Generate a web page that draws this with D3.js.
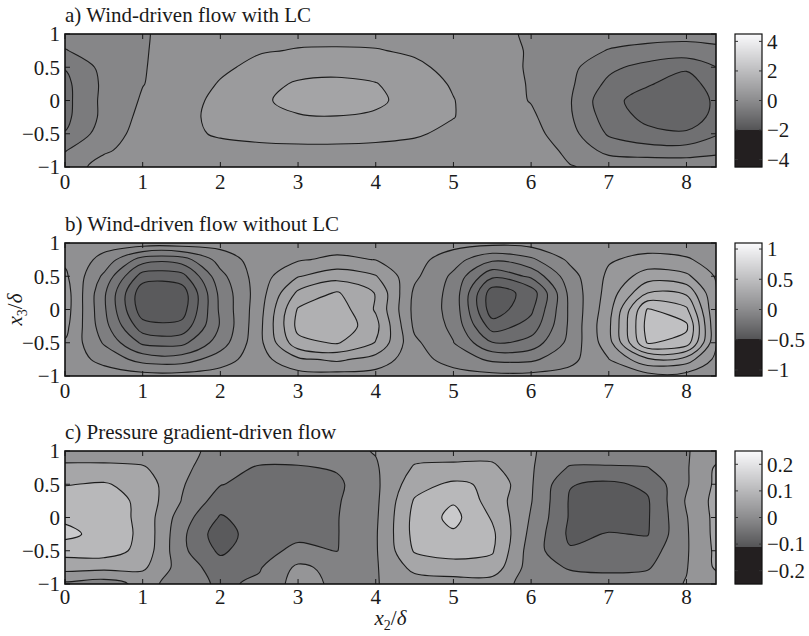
<!DOCTYPE html>
<html>
<head>
<meta charset="utf-8">
<script src="https://cdn.jsdelivr.net/npm/d3@7"></script>
<style>
  body { margin: 0; background: #fff; }
  text { font-family: "Liberation Serif", "Times New Roman", serif; fill: #1a1a1a; }
</style>
</head>
<body>
<svg id="chart" width="809" height="636"></svg>
<script>
// sample grid of the flow fields (x2/delta across, x3/delta from top to bottom)
const gridX = [0, 0.5, 1, 1.5, 2, 2.5, 3, 3.5, 4, 4.5, 5, 5.5, 6, 6.5, 7, 7.5, 8, 8.5];
const gridY = [1, 0.75, 0.5, 0.25, 0, -0.25, -0.5, -0.75, -1];

// a) wind-driven flow with LC
const fieldA = [
  [-0.25, -0.15, -0.03, 0.12, 0.18, 0.25, 0.3, 0.3, 0.28, 0.22, 0.15, 0.04, -0.02, -0.12, -0.22, -0.27, -0.3, -0.3],
  [-0.42, -0.2, -0.025, 0.13, 0.25, 0.37, 0.42, 0.43, 0.42, 0.35, 0.25, 0.12, -0.03, -0.22, -0.42, -0.5, -0.52, -0.45],
  [-0.78, -0.28, -0.02, 0.15, 0.33, 0.5, 0.62, 0.65, 0.6, 0.47, 0.3, 0.15, -0.04, -0.3, -0.7, -0.95, -1.15, -0.7],
  [-0.9, -0.32, -0.01, 0.17, 0.43, 0.65, 0.85, 0.9, 0.82, 0.55, 0.37, 0.18, -0.03, -0.33, -0.9, -1.17, -1.35, -0.95],
  [-0.92, -0.3, 0.04, 0.25, 0.5, 0.72, 0.95, 1.05, 0.9, 0.6, 0.41, 0.2, -0.02, -0.37, -1.1, -1.35, -1.5, -1.0],
  [-0.9, -0.3, 0.105, 0.3, 0.5, 0.65, 0.76, 0.78, 0.72, 0.55, 0.41, 0.2, 0.07, -0.35, -1.0, -1.3, -1.4, -1.0],
  [-0.78, -0.2, 0.145, 0.3, 0.45, 0.52, 0.56, 0.56, 0.52, 0.45, 0.3, 0.2, 0.15, -0.26, -0.85, -1.1, -1.15, -0.75],
  [-0.42, -0.05, 0.16, 0.2, 0.26, 0.29, 0.3, 0.3, 0.29, 0.26, 0.2, 0.15, 0.12, -0.05, -0.55, -0.62, -0.62, -0.5],
  [-0.2, 0.15, 0.15, 0.16, 0.18, 0.2, 0.2, 0.2, 0.19, 0.17, 0.14, 0.08, 0.03, 0.01, -0.05, -0.1, -0.12, -0.1]
];
const levelsA = [-1.2, -0.8, -0.4, 0, 0.4, 0.8];
const rangeA = [-4.5, 4.5];
const cbTicksA = [4, 2, 0, -2, -4];

// b) wind-driven flow without LC
const fieldB = [
  [0.04, 0.032, 0.048, 0.048, 0.032, 0.04, 0.04, 0.04, 0.04, 0.04, 0.032, 0.024, 0.032, 0.04, 0.04, 0.04, 0.04, 0.04],
  [0.064, -0.024, -0.2, -0.2, -0.048, 0.04, 0.072, 0.096, 0.078, 0.032, -0.048, -0.144, -0.096, 0.016, 0.072, 0.104, 0.088, 0.04],
  [0.096, -0.096, -0.36, -0.352, -0.104, 0.04, 0.155, 0.208, 0.165, 0.016, -0.096, -0.304, -0.224, -0.032, 0.096, 0.2, 0.176, 0.04],
  [0.12, -0.144, -0.456, -0.448, -0.136, 0.04, 0.256, 0.328, 0.236, -0.016, -0.104, -0.448, -0.368, -0.056, 0.112, 0.318, 0.304, 0.016],
  [0.12, -0.144, -0.448, -0.44, -0.144, 0.048, 0.328, 0.368, 0.232, -0.024, -0.104, -0.448, -0.336, -0.064, 0.128, 0.488, 0.416, -0.024],
  [0.104, -0.128, -0.368, -0.376, -0.152, 0.056, 0.344, 0.384, 0.264, -0.016, -0.096, -0.36, -0.288, -0.064, 0.144, 0.512, 0.496, -0.04],
  [0.072, -0.088, -0.256, -0.264, -0.12, 0.056, 0.296, 0.328, 0.236, 0.016, -0.078, -0.236, -0.208, -0.056, 0.128, 0.488, 0.448, -0.024],
  [0.048, -0.024, -0.112, -0.12, -0.04, 0.048, 0.144, 0.176, 0.128, 0.032, -0.032, -0.096, -0.096, -0.024, 0.078, 0.224, 0.2, 0.016],
  [0.04, 0.04, 0.032, 0.032, 0.04, 0.04, 0.048, 0.048, 0.048, 0.04, 0.032, 0.024, 0.024, 0.032, 0.04, 0.048, 0.048, 0.04]
];
const levelsB = [-0.4, -0.32, -0.24, -0.16, -0.08, 0, 0.08, 0.16, 0.24, 0.32, 0.4, 0.48];
const rangeB = [-1.1, 1.1];
const cbTicksB = [1, 0.5, 0, -0.5, -1];

// c) pressure gradient-driven flow
const fieldC = [
  [0.02, 0.02, 0.016, 0.012, -0.012, -0.016, -0.016, -0.012, 0.002, 0.024, 0.028, 0.024, 0.002, -0.012, -0.016, -0.016, -0.002, 0.02],
  [0.048, 0.048, 0.044, 0.01, -0.024, -0.044, -0.044, -0.036, -0.004, 0.044, 0.046, 0.048, 0.004, -0.044, -0.044, -0.041, -0.004, 0.06],
  [0.078, 0.084, 0.064, 0.004, -0.038, -0.056, -0.056, -0.048, -0.008, 0.064, 0.088, 0.072, 0.004, -0.078, -0.088, -0.072, -0.004, 0.064],
  [0.1, 0.104, 0.068, -0.001, -0.06, -0.06, -0.056, -0.044, -0.008, 0.084, 0.116, 0.064, 0.002, -0.084, -0.096, -0.084, 0.004, 0.068],
  [0.112, 0.108, 0.068, -0.02, -0.084, -0.06, -0.052, -0.042, -0.006, 0.092, 0.132, 0.076, -0.004, -0.084, -0.096, -0.084, -0.002, 0.068],
  [0.132, 0.104, 0.072, -0.03, -0.104, -0.052, -0.048, -0.042, -0.004, 0.092, 0.114, 0.088, -0.012, -0.088, -0.078, -0.082, -0.004, 0.068],
  [0.096, 0.1, 0.068, -0.03, -0.088, -0.052, -0.032, -0.041, -0.004, 0.084, 0.1, 0.084, -0.02, -0.076, -0.064, -0.06, -0.004, 0.064],
  [0.056, 0.052, 0.048, -0.018, -0.06, -0.044, 0.008, -0.012, -0.004, 0.052, 0.06, 0.064, -0.02, -0.044, -0.048, -0.044, -0.002, 0.06],
  [-0.008, -0.02, 0.012, -0.016, -0.048, -0.032, 0.016, -0.008, -0.002, 0.02, 0.024, 0.02, -0.016, -0.02, -0.024, -0.02, 0.002, 0.016]
];
const levelsC = [-0.08, -0.04, 0, 0.04, 0.08, 0.12];
const rangeC = [-0.25, 0.25];
const cbTicksC = [0.2, 0.1, 0, -0.1, -0.2];

const titles = ["a) Wind-driven flow with LC", "b) Wind-driven flow without LC", "c) Pressure gradient-driven flow"];
const xTicks = [0, 1, 2, 3, 4, 5, 6, 7, 8];
const yTicks = [1, 0.5, 0, -0.5, -1];
const xMax = 8.38;

const panels = [
  { field: fieldA, levels: levelsA, range: rangeA, cbTicks: cbTicksA, title: titles[0] },
  { field: fieldB, levels: levelsB, range: rangeB, cbTicks: cbTicksB, title: titles[1] },
  { field: fieldC, levels: levelsC, range: rangeC, cbTicks: cbTicksC, title: titles[2] }
];

const margin = { left: 65 };
const plotW = 651, plotH = 133;
const panelTops = [34, 243, 451];
const labelGap = [22, 22, 20];
const cbX = 735, cbW = 27;
const tickLen = 5;

const svg = d3.select("#chart");
const x = d3.scaleLinear().domain([0, xMax]).range([margin.left, margin.left + plotW]);

// grey colormap: dark block at the bottom, grey ramp to white on top
const shade = d3.scaleLinear().domain([0.28, 0.5, 1]).range([85, 140, 250]).clamp(true);
function gray(f) {
  if (f < 0.28) return "#231f20";
  const g = Math.round(shade(f));
  return `rgb(${g},${g},${Math.min(255, g + 2)})`;
}
const fmt = v => String(v).replace("-", "\u2212");

function drawPanel(panel, idx) {
  const top = panelTops[idx];
  const y = d3.scaleLinear().domain([-1, 1]).range([top + plotH, top]);
  const norm = d3.scaleLinear().domain(panel.range).range([0, 1]);
  const nx = gridX.length, ny = gridY.length;

  // pad the grid by one cell on each side so every ring closes outside the frame
  const padded = [];
  for (let j = -1; j <= ny; j++) {
    const row = panel.field[Math.max(0, Math.min(ny - 1, j))];
    for (let i = -1; i <= nx; i++) padded.push(row[Math.max(0, Math.min(nx - 1, i))]);
  }
  const contours = d3.contours().size([nx + 2, ny + 2]).thresholds(panel.levels)(padded);

  const ix = d3.scaleLinear().domain([0, nx - 1]).range([gridX[0], gridX[nx - 1]]);
  const iy = d3.scaleLinear().domain([0, ny - 1]).range([gridY[0], gridY[ny - 1]]);
  const line = d3.line().curve(d3.curveCatmullRomClosed.alpha(0.5));
  const ringPath = ring => line(ring.slice(0, -1).map(([c, r]) => [x(ix(c - 1.5)), y(iy(r - 1.5))]));
  const multiPath = geo => geo.coordinates.map(poly => poly.map(ringPath).join("")).join("");

  const lv = panel.levels;
  const step = lv[1] - lv[0];
  const bandMid = k => k + 1 < lv.length ? (lv[k] + lv[k + 1]) / 2 : lv[k] + step / 2;

  const clipId = "clip" + idx;
  svg.append("clipPath").attr("id", clipId)
    .append("rect").attr("x", x(0)).attr("y", top).attr("width", plotW).attr("height", plotH);

  const g = svg.append("g").attr("clip-path", `url(#${clipId})`);
  g.append("rect")
    .attr("x", x(0)).attr("y", top).attr("width", plotW).attr("height", plotH)
    .attr("fill", gray(norm(lv[0] - step / 2)));

  g.selectAll("path.band")
    .data(contours)
    .join("path")
    .attr("class", "band")
    .attr("d", multiPath)
    .attr("fill-rule", "evenodd")
    .attr("fill", (d, k) => gray(norm(bandMid(k))));

  g.selectAll("path.iso")
    .data(contours)
    .join("path")
    .attr("class", "iso")
    .attr("d", multiPath)
    .attr("fill", "none")
    .attr("stroke", "#1c1c1c")
    .attr("stroke-width", 1.1);

  // ticks (inward, all four sides)
  const ticks = svg.append("g").attr("stroke", "#1a1a1a").attr("stroke-width", 1);
  xTicks.forEach(t => {
    ticks.append("line").attr("x1", x(t)).attr("x2", x(t)).attr("y1", top + plotH).attr("y2", top + plotH - tickLen);
    ticks.append("line").attr("x1", x(t)).attr("x2", x(t)).attr("y1", top).attr("y2", top + tickLen);
  });
  yTicks.forEach(t => {
    ticks.append("line").attr("x1", x(0)).attr("x2", x(0) + tickLen).attr("y1", y(t)).attr("y2", y(t));
    ticks.append("line").attr("x1", x(xMax)).attr("x2", x(xMax) - tickLen).attr("y1", y(t)).attr("y2", y(t));
  });

  svg.append("rect")
    .attr("x", x(0)).attr("y", top).attr("width", plotW).attr("height", plotH)
    .attr("fill", "none").attr("stroke", "#111").attr("stroke-width", 1.6);

  // tick labels
  svg.append("g").selectAll("text").data(xTicks).join("text")
    .attr("x", d => x(d)).attr("y", top + plotH + labelGap[idx])
    .attr("text-anchor", "middle").attr("font-size", 21)
    .text(fmt);
  svg.append("g").selectAll("text").data(yTicks).join("text")
    .attr("x", x(0) - 5).attr("y", d => y(d)).attr("dy", "0.35em")
    .attr("text-anchor", "end").attr("font-size", 21)
    .text(fmt);

  svg.append("text")
    .attr("x", x(0)).attr("y", top - 12)
    .attr("font-size", 21)
    .text(panel.title);

  // colour bar
  const cb = svg.append("g");
  const cy = d3.scaleLinear().domain(panel.range).range([top + plotH, top]);
  cb.selectAll("rect.px").data(d3.range(plotH)).join("rect")
    .attr("class", "px")
    .attr("x", cbX).attr("y", i => top + i).attr("width", cbW).attr("height", 1.2)
    .attr("fill", i => gray(1 - (i + 0.5) / plotH));
  cb.append("rect")
    .attr("x", cbX).attr("y", top).attr("width", cbW).attr("height", plotH)
    .attr("fill", "none").attr("stroke", "#111").attr("stroke-width", 1.2);
  panel.cbTicks.forEach(t => {
    cb.append("line").attr("x1", cbX).attr("x2", cbX + 3).attr("y1", cy(t)).attr("y2", cy(t)).attr("stroke", "#333");
    cb.append("line").attr("x1", cbX + cbW).attr("x2", cbX + cbW - 3).attr("y1", cy(t)).attr("y2", cy(t)).attr("stroke", "#333");
  });
  cb.selectAll("text").data(panel.cbTicks).join("text")
    .attr("x", cbX + cbW + 5).attr("y", d => cy(d)).attr("dy", "0.35em")
    .attr("font-size", 21)
    .text(fmt);
}

panels.forEach(drawPanel);

// axis titles
const xl = svg.append("text")
  .attr("x", x(xMax / 2)).attr("y", 625)
  .attr("text-anchor", "middle").attr("font-size", 21);
xl.append("tspan").attr("font-style", "italic").text("x");
xl.append("tspan").attr("font-size", 14).attr("dy", 5).text("2");
xl.append("tspan").attr("dy", -5).text("/");
xl.append("tspan").attr("font-style", "italic").text("\u03b4");

const yl = svg.append("text")
  .attr("transform", `translate(22, ${panelTops[1] + plotH / 2}) rotate(-90)`)
  .attr("text-anchor", "middle").attr("font-size", 21);
yl.append("tspan").attr("font-style", "italic").text("x");
yl.append("tspan").attr("font-size", 14).attr("dy", 5).text("3");
yl.append("tspan").attr("dy", -5).text("/");
yl.append("tspan").attr("font-style", "italic").text("\u03b4");
</script>
</body>
</html>
